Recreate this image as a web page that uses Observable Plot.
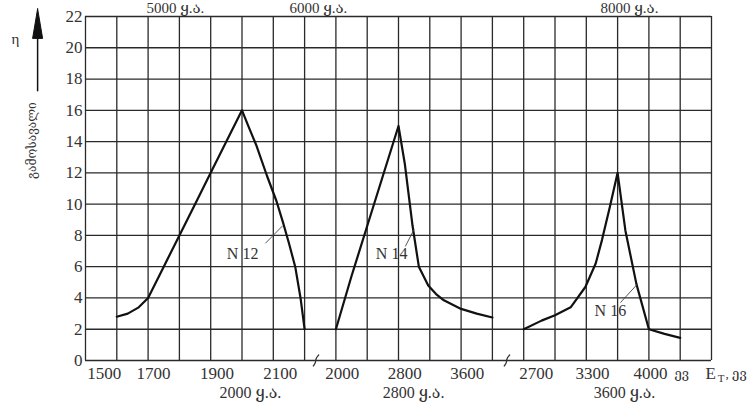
<!DOCTYPE html>
<html>
<head>
<meta charset="utf-8">
<script src="https://cdn.jsdelivr.net/npm/d3@7"></script>
<script src="https://cdn.jsdelivr.net/npm/@observablehq/plot@0.6"></script>
<style>
  html, body { margin: 0; padding: 0; background: #fff; }
  #chart svg { display: block; }
</style>
</head>
<body>
<div id="chart"></div>
<script>
// Horizontal position is measured in grid columns (0..20); the axis is broken into three ranges.
const gridCols = d3.range(0, 21);
const gridRows = d3.range(0, 23, 2);

const xTickPos = [0.6, 2.17, 4.2, 6.22, 8.2, 10.2, 12.2, 14.4, 16.2, 18.05];
const xTickLabels = ["1500", "1700", "1900", "2100", "2000", "2800", "3600", "2700", "3300", "4000"];

// Curve N 12
const n12x = [1, 1.35, 1.7, 2, 2.5, 3, 3.5, 4, 4.5, 5, 5.2, 5.45, 5.8, 6.1, 6.3, 6.5, 6.7, 6.87, 7];
const n12y = [2.8, 3.0, 3.4, 4.0, 6.0, 8.0, 10.0, 12.0, 14.0, 16.0, 15.0, 13.8, 11.8, 10.2, 8.9, 7.5, 6.0, 4.0, 2.0];
// Curve N 14
const n14x = [8, 8.5, 9, 9.5, 10, 10.2, 10.45, 10.65, 10.95, 11.2, 11.45, 12, 12.5, 13];
const n14y = [2, 5.4, 8.6, 11.8, 15, 12.6, 8.6, 6.0, 4.8, 4.25, 3.85, 3.3, 3.0, 2.75];
// Curve N 16
const n16x = [14, 14.57, 15, 15.5, 15.97, 16.3, 16.5, 16.75, 17, 17.25, 17.6, 18, 18.5, 19];
const n16y = [2, 2.55, 2.9, 3.4, 4.7, 6.2, 7.7, 9.8, 12, 8.3, 4.9, 2.0, 1.7, 1.45];

const curveNames = ["N 12", "N 14", "N 16"];
const labelX = [5.02, 9.78, 16.77];
const labelY = [6.8, 6.8, 3.2];
const leaderX1 = [5.75, 10.22, 17.09];
const leaderY1 = [7.5, 7.3, 3.7];
const leaderX2 = [6.29, 10.5, 17.64];
const leaderY2 = [8.6, 8.4, 4.9];

const topLabels = ["5000 ყ.ა.", "6000 ყ.ა.", "8000 ყ.ა."];
const topLabelX = [2.87, 7.44, 17.38];
const bottomLabels = ["2000 ყ.ა.", "2800 ყ.ა.", "3600 ყ.ა."];
const bottomLabelX = [5.27, 10.48, 17.22];
const breakCols = [7.38, 13.48];

const serif = "'Liberation Serif', 'DejaVu Serif', serif";
const ink = "#1a1a1a";

const curves = [
  ...n12x.map((x, i) => ({series: "N 12", x, y: n12y[i]})),
  ...n14x.map((x, i) => ({series: "N 14", x, y: n14y[i]})),
  ...n16x.map((x, i) => ({series: "N 16", x, y: n16y[i]}))
];
const labels = curveNames.map((t, i) => ({t, x: labelX[i], y: labelY[i]}));
const leaders = curveNames.map((t, i) => ({x1: leaderX1[i], y1: leaderY1[i], x2: leaderX2[i], y2: leaderY2[i]}));
const breaks = breakCols.flatMap((c, k) => [
  {k, x: c - 0.1, y: -0.35}, {k, x: c - 0.02, y: -0.12}, {k, x: c - 0.03, y: 0.12}, {k, x: c + 0.07, y: 0.35}
]);
const arrowHead = [{x: -1.53, y: 22.49}, {x: -1.69, y: 20.6}, {x: -1.37, y: 20.6}, {x: -1.53, y: 22.49}];

const chart = Plot.plot({
  width: 749,
  height: 403,
  marginLeft: 85,
  marginRight: 38,
  marginTop: 16,
  marginBottom: 43,
  style: {background: "#fff", fontFamily: serif, color: ink},
  x: {domain: [0, 20], axis: null},
  y: {domain: [0, 22], axis: null},
  marks: [
    Plot.ruleX(gridCols, {stroke: "#2a2a2a", strokeWidth: 1.3}),
    Plot.ruleY(gridRows, {stroke: "#2a2a2a", strokeWidth: 1.3}),
    Plot.axisY(gridRows, {tickSize: 0, tickPadding: 3, fontSize: 17, fontFamily: serif, fill: "#333"}),
    Plot.axisX(xTickPos, {tickSize: 0, tickPadding: 6, fontSize: 17, fontFamily: serif, fill: "#333",
      tickFormat: (d, i) => xTickLabels[xTickPos.indexOf(d)]}),
    Plot.line(breaks, {x: "x", y: "y", z: "k", stroke: "#333", strokeWidth: 1.3, curve: "basis"}),
    Plot.line(curves, {x: "x", y: "y", z: "series", stroke: "#111", strokeWidth: 2.2, strokeLinejoin: "round"}),
    Plot.link(leaders, {x1: "x1", y1: "y1", x2: "x2", y2: "y2", stroke: "#444", strokeWidth: 0.9}),
    Plot.text(labels, {x: "x", y: "y", text: "t", fontSize: 16, fontFamily: serif, fill: "#333"}),
    Plot.text(topLabels, {x: (d, i) => topLabelX[i], y: 22.52, text: d => d, fontSize: 15, fontFamily: serif, fill: "#333"}),
    Plot.text(bottomLabels, {x: (d, i) => bottomLabelX[i], y: -2.04, text: d => d, fontSize: 16, fontFamily: serif, fill: "#333"}),
    Plot.text(["ევ"], {x: 18.82, y: -0.85, text: d => d, textAnchor: "start", fontSize: 13, fill: "#333"}),
    Plot.text(["E"], {x: 19.81, y: -0.83, text: d => d, textAnchor: "start", fontSize: 17, fontFamily: serif, fill: "#333"}),
    Plot.text(["T"], {x: 20.2, y: -1.15, text: d => d, textAnchor: "start", fontSize: 11, fontFamily: serif, fill: "#333"}),
    Plot.text([", ევ"], {x: 20.45, y: -0.85, text: d => d, textAnchor: "start", fontSize: 13, fill: "#333"}),
    Plot.text(["η"], {x: -2.24, y: 20.57, text: d => d, fontSize: 15, fontFamily: serif, fill: "#333"}),
    Plot.line([{x: -1.53, y: 17.25}, {x: -1.53, y: 20.8}], {x: "x", y: "y", stroke: "#111", strokeWidth: 1.5}),
    Plot.line(arrowHead, {x: "x", y: "y", fill: "#111", stroke: "#111", strokeWidth: 1}),
    Plot.text(["გამოსავალი"], {x: -1.7, y: 14.06, text: d => d, rotate: -90, fontSize: 12, fill: "#333"})
  ]
});
document.getElementById("chart").appendChild(chart);
</script>
</body>
</html>
